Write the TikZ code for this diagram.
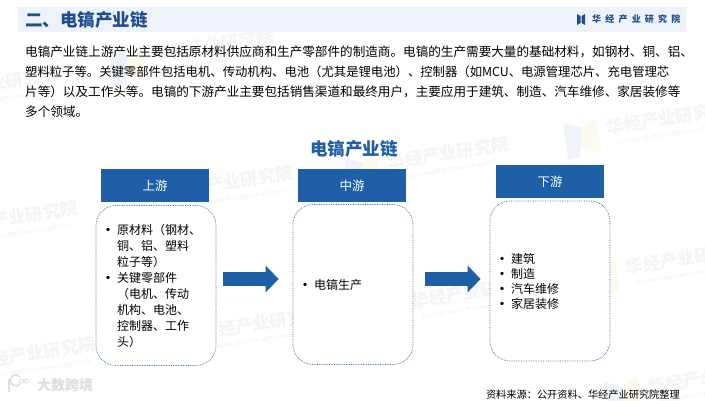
\documentclass[tikz,border=0pt]{standalone}
\usepackage{fontspec}
\setmainfont{Noto Sans CJK SC}
\usepackage{tikz}
\usetikzlibrary{arrows.meta}
\definecolor{BandBlue}{HTML}{EEF3FA}
\definecolor{DeepBlue}{HTML}{1F4E8C}
\definecolor{HeadBlue}{HTML}{1F5FA8}
\definecolor{DotBlue}{HTML}{2F6AA5}
\definecolor{MarkGray}{HTML}{F4F5F7}
\definecolor{MarkYellow}{HTML}{FDFAEE}
\definecolor{MarkBlue}{HTML}{F0F4FA}
\newcommand{\dotitem}{\leavevmode\llap{{\bfseries\textbullet}\hspace{3pt}}}
\newcommand{\lparen}{^^^^ff08}
\newcommand{\rparen}{^^^^ff09}
\newcommand{\wcomma}{^^^^ff0c}
\newcommand{\wcolon}{^^^^ff1a}
\tikzset{
    headbox/.style={fill=HeadBlue,text=white,minimum width=108pt,minimum height=33pt,inner sep=0pt,font=\fontsize{12.5}{15}\selectfont},
    bodybox/.style={draw=DotBlue,fill=white,densely dotted,line width=.7pt,rounded corners=20pt,minimum width=120pt,minimum height=160pt,text width=78pt,inner sep=0pt,align=left,font=\fontsize{12}{15}\selectfont},
    bigarrow/.style={HeadBlue,line width=14pt,-{Triangle[length=13pt,width=26pt]}},
    watermark/.style={MarkGray,rotate=9,inner sep=0pt,align=center,font=\fontsize{17.5}{13}\selectfont\bfseries},
}
\begin{document}
\begin{tikzpicture}[x=1pt,y=-1pt]
    \useasboundingbox (0,0) rectangle (705,400);
    \fill[white] (0,0) rectangle (705,400);

    % watermarks behind everything
    \begin{scope}
    \clip (0,0) rectangle (705,400);
    \foreach \wx/\wy [count=\wn] in {214/50,-2/88,668/123,233/187,18/222,449/158,687/263,473/297,262/328,36/358,710/382}{
        \fill[MarkBlue] (\wx-105,\wy)--(\wx-86,\wy+5)--(\wx-88,\wy+34)--(\wx-100,\wy+37)--cycle;
        \fill[MarkYellow] (\wx-86,\wy+5)--(\wx-73,\wy-6)--(\wx-66,\wy+32)--(\wx-87,\wy+22)--cycle;
        \node[watermark] (mark\wn) at (\wx,\wy) {华经产业研究院\\[-1pt]{\fontsize{5}{6}\selectfont HUAJING INDUSTRY RESEARCH INSTITUTE}};
    }
    \end{scope}

    % header band
    \fill[BandBlue] (18,7) rectangle (686,32);
    \node[anchor=west,inner sep=0pt,text=DeepBlue,font=\fontsize{17.5}{20}\selectfont\bfseries] (pagetitle) at (25,19.5) {二、电镐产业链};
    \fill[DeepBlue] (577,14)--(580.5,16)--(580.5,23)--(577,25)--cycle;
    \fill[DeepBlue] (585,14)--(581.5,16)--(581.5,23)--(585,25)--cycle;
    \node[anchor=west,inner sep=0pt,text=DeepBlue,font=\fontsize{9}{10}\selectfont\bfseries] (brand) at (592,19) {华\hspace{4.2pt}经\hspace{4.2pt}产\hspace{4.2pt}业\hspace{4.2pt}研\hspace{4.2pt}究\hspace{4.2pt}院};

    % intro text
    \node[anchor=north west,inner sep=0pt,align=left,font=\fontsize{12.6}{20}\selectfont] (intro) at (25,46) {电镐产业链上游产业主要包括原材料供应商和生产零部件的制造商。电镐的生产需要大量的基础材料\wcomma 如钢材、铜、铝、\\
    {\fontsize{12.35}{20}\selectfont 塑料粒子等。关键零部件包括电机、传动机构、电池\lparen 尤其是锂电池\rparen 、控制器\lparen 如MCU、电源管理芯片、充电管理芯}\\
    片等\rparen 以及工作头等。电镐的下游产业主要包括销售渠道和最终用户\wcomma 主要应用于建筑、制造、汽车维修、家居装修等\\
    多个领域。};

    \node[text=HeadBlue,inner sep=0pt,font=\fontsize{17.5}{20}\selectfont\bfseries] (charttitle) at (354,149) {电镐产业链};

    % three columns
    \node[headbox] (uphead) at (155,185.5) {上游};
    \node[headbox] (midhead) at (352,185.5) {中游};
    \node[headbox] (downhead) at (550,181.5) {下游};

    \node[bodybox,font=\fontsize{12}{16}\selectfont] (upbody) at (156,285.5) {\dotitem 原材料\lparen 钢材、\\铜、铝、塑料\\粒子等\rparen\\\dotitem 关键零部件\\\lparen 电机、传动\\机构、电池、\\控制器、工作\\头\rparen};
    \node[bodybox] (midbody) at (353,284.5) {\dotitem 电镐生产};
    \node[bodybox] (downbody) at (550,281) {\dotitem 建筑\\\dotitem 制造\\\dotitem 汽车维修\\\dotitem 家居装修};

    \draw[bigarrow,shorten <=7pt,shorten >=14pt] ([yshift=6.5pt]upbody.east) -- ([yshift=5.5pt]midbody.west);
    \draw[bigarrow,shorten <=12pt,shorten >=9pt] ([yshift=5.5pt]midbody.east) -- ([yshift=2pt]downbody.west);

    % source and stamp
    \node[anchor=east,inner sep=0pt,font=\fontsize{10.2}{12}\selectfont] (source) at (680,395) {资料来源\wcolon 公开资料、华经产业研究院整理};
    \node[anchor=west,inner sep=0pt,text=black!13,font=\fontsize{14}{16}\selectfont\bfseries] (stamp) at (37,385) {大数跨境};
    \draw[black!13,line width=1.6pt] (9,379)--(9,392);
    \draw[black!13,line width=1.6pt] (20,384) arc (40:320:5.5);
    \draw[black!13,line width=.8pt] (21.5,381) circle (2) (26.5,381) circle (2);
\end{tikzpicture}
\end{document}
